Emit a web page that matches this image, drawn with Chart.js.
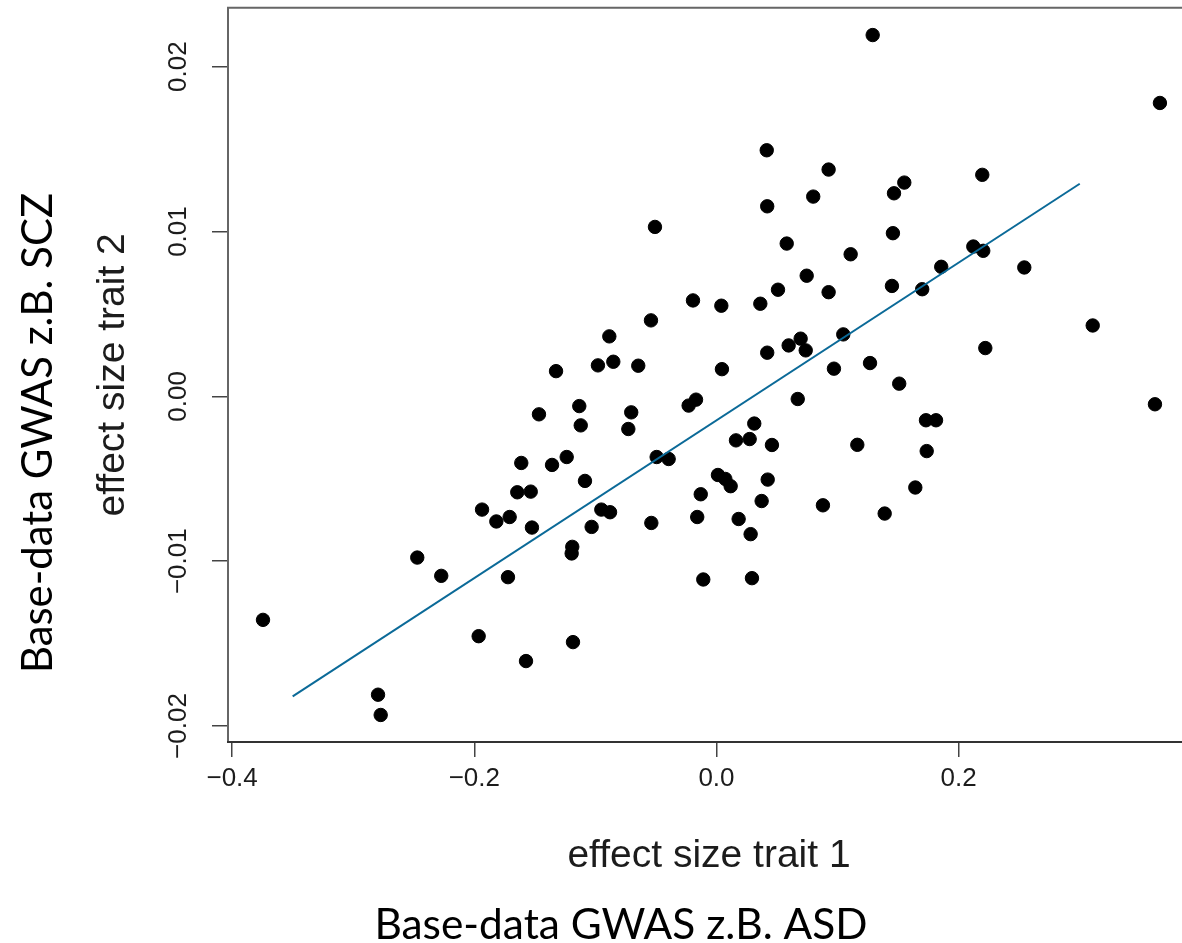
<!DOCTYPE html>
<html>
<head>
<meta charset="utf-8">
<script src="https://cdn.jsdelivr.net/npm/chart.js@4.4.1/dist/chart.umd.min.js"></script>
<style>
  html, body { margin: 0; padding: 0; background: #fff; overflow: hidden; }
  #wrap { position: absolute; left: 0; top: 0; width: 1215px; height: 943px; }
</style>
</head>
<body>
<div id="wrap"><canvas id="streu" width="1215" height="943"></canvas></div>
<script>
// Effektstärken je SNP: trait 1 (x) gegen trait 2 (y)
const effectTrait1 = [
  -0.3745, -0.2795, -0.2773, -0.2471, -0.2273, -0.1964, -0.1936, -0.1818, -0.1722, -0.1708,
  -0.1645, -0.1612, -0.1573, -0.1534, -0.1524, -0.1466, -0.1358, -0.1325, -0.1237, -0.1196,
  -0.1191, -0.1185, -0.1133, -0.1121, -0.1086, -0.1031, -0.0979, -0.0951, -0.0885, -0.0879,
  -0.0852, -0.0728, -0.0704, -0.0646, -0.0541, -0.0538, -0.0508, -0.0494, -0.0395, -0.0230,
  -0.0194, -0.0169, -0.0159, -0.0130, -0.0109, 0.0012, 0.0040, 0.0045, 0.0073, 0.0117,
  0.0161, 0.0183, 0.0274, 0.0282, 0.0293, 0.0312, 0.0362, 0.0373, 0.0415, 0.0419,
  0.0419, 0.0423, 0.0458, 0.0508, 0.0580, 0.0596, 0.0671, 0.0695, 0.0737, 0.0745,
  0.0799, 0.0879, 0.0926, 0.0926, 0.0970, 0.1047, 0.1108, 0.1163, 0.1268, 0.1290,
  0.1389, 0.1449, 0.1457, 0.1466, 0.1509, 0.1551, 0.1642, 0.1699, 0.1730, 0.1736,
  0.1813, 0.1856, 0.2121, 0.2195, 0.2203, 0.2220, 0.2542, 0.3107, 0.3621, 0.3662
];
const effectTrait2 = [
  -0.01356, -0.01810, -0.01933, -0.00978, -0.01089, -0.01455, -0.00687, -0.00759, -0.01097, -0.00732,
  -0.00582, -0.00404, -0.01606, -0.00578, -0.00796, -0.00109, -0.00416, 0.00153, -0.00368, -0.00953,
  -0.00913, -0.01491, -0.00059, -0.00176, -0.00513, -0.00792, 0.00188, -0.00687, 0.00364, -0.00703,
  0.00210, -0.00198, -0.00097, 0.00186, 0.00461, -0.00768, 0.01028, -0.00368, -0.00380, -0.00056,
  0.00582, -0.00020, -0.00732, -0.00594, -0.01111, -0.00477, 0.00550, 0.00165, -0.00501, -0.00545,
  -0.00267, -0.00744, -0.00259, -0.00836, -0.01103, -0.00165, 0.00562, -0.00635, 0.01493, 0.01153,
  0.00265, -0.00505, -0.00295, 0.00647, 0.00927, 0.00309, -0.00016, 0.00350, 0.00279, 0.00732,
  0.01212, -0.00661, 0.01376, 0.00632, 0.00168, 0.00376, 0.00862, -0.00294, 0.00202, 0.02192,
  -0.00711, 0.00670, 0.00990, 0.01232, 0.00077, 0.01297, -0.00553, 0.00650, -0.00145, -0.00332,
  -0.00145, 0.00786, 0.00909, 0.01344, 0.00883, 0.00293, 0.00782, 0.00430, -0.00048, 0.01780
];

// Regressionsgerade, Anfangs- und Endpunkt
const fitX = [-0.35, 0.30];
const fitY = [-0.0182, 0.0129];

const xTicks = [-0.4, -0.2, 0.0, 0.2];
const xTickLabels = ['\u22120.4', '\u22120.2', '0.0', '0.2'];
const yTicks = [-0.02, -0.01, 0.0, 0.01, 0.02];
const yTickLabels = ['\u22120.02', '\u22120.01', '0.00', '0.01', '0.02'];

const xTitle = 'effect size trait 1';
const yTitle = 'effect size trait 2';
const xLabelDe = 'Base-data GWAS z.B. ASD';
const yLabelDe = 'Base-data GWAS z.B. SCZ';

const rFont = '"Liberation Sans", Arial, Helvetica, sans-serif';
const slideFont = 'Lato, "Open Sans", sans-serif';

// Schriftgröße so wählen, dass der Text genau die gewünschte Breite hat
function fitFont(ctx, text, family, width) {
    ctx.font = '100px ' + family;
    const w = ctx.measureText(text).width;
    return (100 * width / w).toFixed(1) + 'px ' + family;
}

function drawRotated(ctx, text, x, y) {
    ctx.save();
    ctx.translate(x, y);
    ctx.rotate(-Math.PI / 2);
    ctx.fillText(text, 0, 0);
    ctx.restore();
}

// Rahmen, gedrehte y-Beschriftung und Achsentitel
const rahmenUndText = {
    id: 'rahmenUndText',
    afterDraw(chart) {
        const { ctx, chartArea: a, scales } = chart;
        ctx.save();

        ctx.strokeStyle = '#666';
        ctx.lineWidth = 2;
        ctx.beginPath();
        ctx.moveTo(a.left, a.bottom);
        ctx.lineTo(a.left, a.top);
        ctx.lineTo(a.right, a.top);
        ctx.lineTo(a.right, a.bottom);
        ctx.stroke();
        ctx.strokeStyle = '#333';
        ctx.beginPath();
        ctx.moveTo(a.left - 1, a.bottom);
        ctx.lineTo(a.right, a.bottom);
        ctx.stroke();

        ctx.fillStyle = '#1c1c1c';
        ctx.font = '26px ' + rFont;
        ctx.textAlign = 'center';
        ctx.textBaseline = 'middle';
        yTicks.forEach((v, i) => {
            drawRotated(ctx, yTickLabels[i], a.left - 49, scales.y.getPixelForValue(v));
        });

        ctx.font = '39px ' + rFont;
        ctx.textBaseline = 'alphabetic';
        ctx.fillText(xTitle, (a.left + a.right) / 2 - 5, a.bottom + 125);
        drawRotated(ctx, yTitle, a.left - 104, (a.top + a.bottom) / 2);

        ctx.fillStyle = '#000';
        ctx.font = fitFont(ctx, xLabelDe, slideFont, 493);
        ctx.fillText(xLabelDe, 621, 939);
        ctx.font = fitFont(ctx, yLabelDe, slideFont, 480);
        drawRotated(ctx, yLabelDe, 52, 433);

        ctx.restore();
    }
};

const punkte = effectTrait1.map((x, i) => ({ x: x, y: effectTrait2[i] }));
const gerade = fitX.map((x, i) => ({ x: x, y: fitY[i] }));

new Chart(document.getElementById('streu'), {
    type: 'scatter',
    data: {
        datasets: [{
            type: 'line',
            data: gerade,
            borderColor: '#0b6a98',
            borderWidth: 2,
            pointRadius: 0,
            fill: false,
            order: 0
        }, {
            data: punkte,
            backgroundColor: '#000',
            borderColor: '#000',
            borderWidth: 1,
            pointRadius: 6.7,
            order: 1
        }]
    },
    options: {
        responsive: false,
        animation: false,
        devicePixelRatio: 1,
        layout: { padding: { left: 0, top: 7, right: 15, bottom: 0 } },
        plugins: {
            legend: { display: false },
            tooltip: { enabled: false }
        },
        scales: {
            x: {
                type: 'linear',
                min: -0.4034,
                max: 0.3993,
                afterBuildTicks: s => { s.ticks = xTicks.map(v => ({ value: v })); },
                afterFit: s => { s.height = 201; },
                grid: { drawOnChartArea: false, drawTicks: true, tickLength: 15, color: '#444', lineWidth: 1.5 },
                border: { display: false },
                ticks: {
                    callback: (v, i) => xTickLabels[i],
                    font: { size: 26, family: rFont },
                    color: '#1c1c1c',
                    padding: 6,
                    maxRotation: 0,
                    autoSkip: false
                }
            },
            y: {
                type: 'linear',
                min: -0.02097,
                max: 0.02358,
                afterBuildTicks: s => { s.ticks = yTicks.map(v => ({ value: v })); },
                afterFit: s => { s.width = 228; },
                grid: { drawOnChartArea: false, drawTicks: true, tickLength: 16, color: '#444', lineWidth: 1.5 },
                border: { display: false },
                ticks: { display: false }
            }
        }
    },
    plugins: [rahmenUndText]
});
</script>
</body>
</html>
